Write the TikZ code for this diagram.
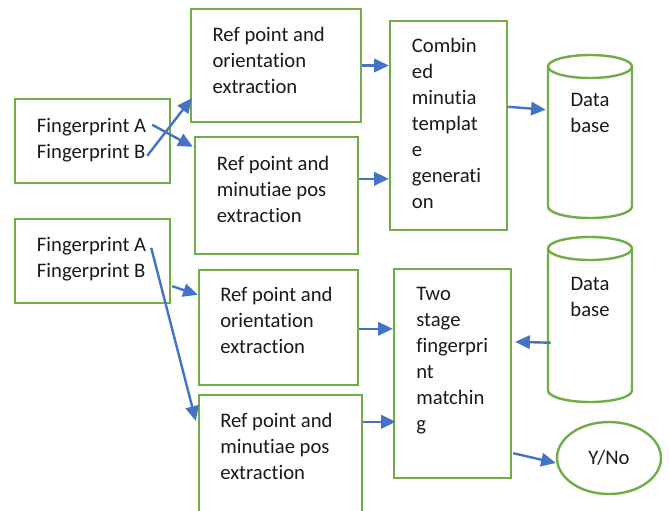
\documentclass[tikz,border=0pt]{standalone}
\usepackage{fontspec}
\setmainfont[Ligatures=NoCommon]{Carlito}
\usetikzlibrary{arrows.meta,calc,fit,shapes.geometric}
\definecolor{grn}{HTML}{70AD47}
\definecolor{blu}{HTML}{4472C4}
\definecolor{ink}{HTML}{1A1A1A}
\begin{document}
\begin{tikzpicture}[x=0.75pt,y=-0.75pt,
  box/.style={draw=grn,line width=1.8pt,inner sep=0pt,rectangle},
  area/.style={inner sep=0pt},
  txt/.style={anchor=base west,inner sep=0pt,text=ink,font=\fontsize{15.5}{19.5}\selectfont},
  ctxt/.style={anchor=base,inner sep=0pt,text=ink,font=\fontsize{15.5}{19.5}\selectfont},
  arr/.style={draw=blu,line width=1.8pt,-{Triangle[length=11pt,width=10pt]}},
  dbline/.style={draw=grn,line width=1.8pt}]
\useasboundingbox (0,0) rectangle (670,510);
\fill[white] (0,0) rectangle (670,510);
\renewcommand\arraystretch{1}

% upper part
\node[box,fit={(15,99) (170,183)}] (fp1) {};
\node[txt] (tfp1) at (36.7,132.5) {\begin{tabular}[t]{@{}l@{}}Fingerprint A\\Fingerprint B\end{tabular}};
\node[box,fit={(191,9) (361,122)}] (r1) {};
\node[txt] (tr1) at (212.3,41.7) {\begin{tabular}[t]{@{}l@{}}Ref point and\\orientation\\extraction\end{tabular}};
\node[box,fit={(195,137) (358,254)}] (r2) {};
\node[txt] (tr2) at (216.7,170.7) {\begin{tabular}[t]{@{}l@{}}Ref point and\\minutiae pos\\extraction\end{tabular}};
\node[box,fit={(390,21) (507,230)}] (comb) {};
\node[txt] (tcomb) at (411.7,52.7) {\begin{tabular}[t]{@{}l@{}}Combin\\ed\\minutia\\templat\\e\\generati\\on\end{tabular}};
\node[area,fit={(548,55) (632,218)}] (db1) {};
\draw[dbline] (590,66.5) ellipse [x radius=42, y radius=11.5];
\draw[dbline] (548,66.5) -- (548,206.5) arc[start angle=180,end angle=0,x radius=42,y radius=11.5] -- (632,66.5);
\node[ctxt] (tdb1) at (590,106.7) {\begin{tabular}[t]{@{}c@{}}Data\\base\end{tabular}};

% lower part
\node[box,fit={(15,219) (170,303)}] (fp2) {};
\node[txt] (tfp2) at (36.7,251.7) {\begin{tabular}[t]{@{}l@{}}Fingerprint A\\Fingerprint B\end{tabular}};
\node[box,fit={(199,270) (358,385)}] (r3) {};
\node[txt] (tr3) at (220,301) {\begin{tabular}[t]{@{}l@{}}Ref point and\\orientation\\extraction\end{tabular}};
\node[box,fit={(199,395) (362,513)}] (r4) {};
\node[txt] (tr4) at (220,427.3) {\begin{tabular}[t]{@{}l@{}}Ref point and\\minutiae pos\\extraction\end{tabular}};
\node[box,fit={(394,269) (511,478)}] (two) {};
\node[txt] (ttwo) at (416,300.7) {\begin{tabular}[t]{@{}l@{}}Two\\stage\\fingerpri\\nt\\matchin\\g\end{tabular}};
\node[area,fit={(548,237) (632,402)}] (db2) {};
\draw[dbline] (590,248.5) ellipse [x radius=42, y radius=11.5];
\draw[dbline] (548,248.5) -- (548,390.5) arc[start angle=180,end angle=0,x radius=42,y radius=11.5] -- (632,248.5);
\node[ctxt] (tdb2) at (590,290.7) {\begin{tabular}[t]{@{}c@{}}Data\\base\end{tabular}};
\node[draw=grn,line width=1.8pt,ellipse,minimum width=78pt,minimum height=54pt,inner sep=0pt,
      text=ink,font=\fontsize{15.5}{19.5}\selectfont] (yn) at (609,458) {Y/No};

% connectors
\draw[arr] ($(fp1.north east)+(-24,58)$) -- ($(r1.south west)+(2,-25)$);
\draw[arr] ($(fp1.north east)+(-19,27)$) -- ($(r2.north west)+(-1,11)$);
\draw[arr] (r1.east) -- (comb.west |- r1.east);
\draw[arr] ($(r2.north east)+(0,43)$) -- ($(comb.north west)+(0,159)$);
\draw[arr] ($(comb.north east)+(0,87)$) -- ($(db1.north west)+(-2,55)$);
\draw[arr] ($(fp2.south east)+(1,-18)$) -- ($(r3.north west)+(0,26)$);
\draw[arr] ($(fp2.north east)+(-20,30)$) -- ($(r4.north west)+(-2,27)$);
\draw[arr] ($(r3.north east)+(0,60)$) -- ($(two.north west)+(0,61)$);
\draw[arr] ($(r4.north east)+(0,28)$) -- ($(two.north west)+(3,154)$);
\draw[arr] ($(db2.north west)+(3,106)$) -- ($(two.north east)+(3,74)$);
\draw[arr] ($(two.south east)+(1,-26)$) -- ($(yn.west)+(0,5)$);
\end{tikzpicture}
\end{document}
